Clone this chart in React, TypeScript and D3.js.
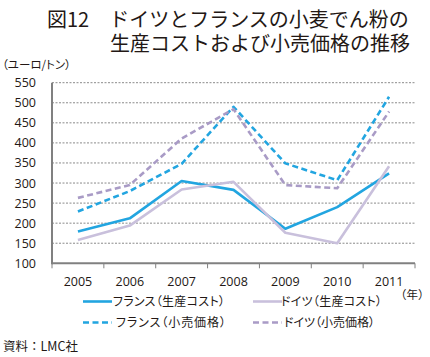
import React from "react";
import * as d3 from "d3";

const years = ["2005", "2006", "2007", "2008", "2009", "2010", "2011"];
const yTicks = [100, 150, 200, 250, 300, 350, 400, 450, 500, 550];
const franceCost = [179, 212, 305, 283, 186, 240, 324];
const germanyCost = [158, 194, 284, 303, 176, 150, 342];
const franceRetail = [229, 280, 348, 490, 349, 307, 515];
const germanyRetail = [263, 295, 411, 484, 295, 287, 478];

const BLUE = "#22a5e0";
const PURPLE_LIGHT = "#c9c0dc";
const PURPLE = "#a99bc6";
const FONT = "'Noto Sans CJK JP', 'Noto Sans', sans-serif";
const NUMFONT = "'Open Sans', 'Noto Sans', sans-serif";

const series = [
  { name: "フランス（生産コスト）", values: franceCost, color: BLUE, dash: null },
  { name: "ドイツ（生産コスト）", values: germanyCost, color: PURPLE_LIGHT, dash: null },
  { name: "フランス（小売価格）", values: franceRetail, color: BLUE, dash: "6,3.5" },
  { name: "ドイツ（小売価格）", values: germanyRetail, color: PURPLE, dash: "6,3.5" },
];
const legendTextWidths = [112, 101, 110, 91];

export default function App() {
  const W = 430, H = 357;
  const x0 = 52, x1 = 415, yTop = 82.7, yBot = 263.3;
  const x = d3.scaleBand<string>().domain(years).range([x0, x1]);
  const y = d3.scaleLinear().domain([100, 550]).range([yBot, yTop]);
  const line = d3
    .line<number>()
    .x((_, i) => (x(years[i]) as number) + x.bandwidth() / 2)
    .y((v) => y(v));
  const tickXs = [...years.map((yr) => x(yr) as number), x1];
  const palt = { fontFeatureSettings: "'palt'" } as React.CSSProperties;

  return (
    <svg width={W} height={H} style={{ position: "absolute", left: 0, top: 0 }} fontFamily={FONT}>
      <rect width={W} height={H} fill="#fff" />
      <text x={47} y={27} fontSize={20} fill="#231815">図12　ドイツとフランスの小麦でん粉の</text>
      <text x={110} y={51} fontSize={20} fill="#231815">生産コストおよび小売価格の推移</text>
      <text x={2} y={69} fontSize={11.5} fill="#231815" style={palt}>（ユーロ/トン）</text>

      {yTicks.filter((t) => t > 100).map((t) => (
        <line key={t} x1={x0} x2={x1} y1={y(t)} y2={y(t)} stroke="#8a8a8a" strokeWidth={1} strokeDasharray="2,1.5" />
      ))}
      {yTicks.map((t) => (
        <text key={t} x={36} y={y(t) + 4.5} fontSize={12.5} textAnchor="end" fill="#231815" fontFamily={NUMFONT}>
          {t}
        </text>
      ))}
      <line x1={x0} x2={x1} y1={yBot} y2={yBot} stroke="#808080" strokeWidth={2} />
      <line x1={x0} x2={x0} y1={yTop} y2={yBot + 1} stroke="#808080" strokeWidth={2} />
      {tickXs.map((tx, i) => (
        <line key={i} x1={tx} x2={tx} y1={yBot} y2={yBot + 5} stroke="#808080" strokeWidth={1} />
      ))}
      {years.map((yr) => (
        <text key={yr} x={(x(yr) as number) + x.bandwidth() / 2} y={286} fontSize={12.5} textAnchor="middle" fill="#231815" fontFamily={NUMFONT}>
          {yr}
        </text>
      ))}
      <text x={395} y={299} fontSize={11.5} fill="#231815">（年）</text>

      {series.map((s) => (
        <path key={s.name} d={line(s.values) || ""} fill="none" stroke={s.color} strokeWidth={2.6}
          strokeDasharray={s.dash || undefined} strokeLinejoin="round" />
      ))}

      {series.map((s, i) => {
        const lx = i % 2 === 0 ? 83 : 253;
        const ly = i < 2 ? 301.5 : 322.5;
        const tx = i % 2 === 0 ? (s.dash ? 116 : 113) : (s.dash ? 284 : 281);
        return (
          <g key={s.name}>
            <line x1={lx} x2={lx + 29} y1={ly} y2={ly} stroke={s.color} strokeWidth={2.6} strokeDasharray={s.dash || undefined} />
            <text x={tx} y={ly + 4.5} fontSize={12} fill="#231815" style={palt}
              textLength={legendTextWidths[i]} lengthAdjust="spacing">{s.name}</text>
          </g>
        );
      })}

      <text x={3} y={351} fontSize={12.5} fill="#231815">資料：LMC社</text>
    </svg>
  );
}
